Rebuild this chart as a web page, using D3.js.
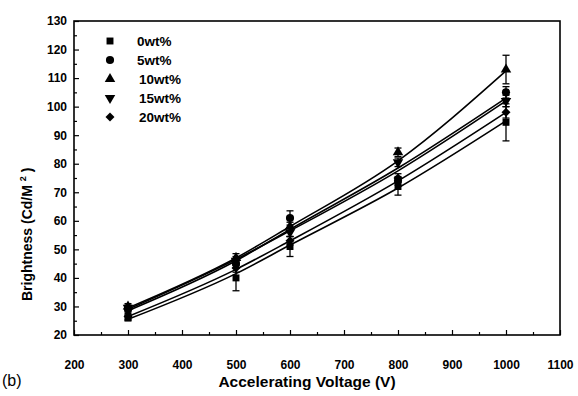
<!DOCTYPE html>
<html>
<head>
<meta charset="utf-8">
<script src="https://cdn.jsdelivr.net/npm/d3@7"></script>
<style>
  body { margin: 0; background: #fff; }
  svg { font-family: "Liberation Sans", Arial, sans-serif; }
</style>
</head>
<body>
<div id="chart"></div>
<script>
// Brightness vs accelerating voltage, five dopant contents
const voltages = [300, 500, 600, 800, 1000];
const seriesNames = ['0wt%', '5wt%', '10wt%', '15wt%', '20wt%'];
const seriesSymbols = ['square', 'circle', 'triangle', 'triangleDown', 'diamond'];

// measured points
const bright0 = [26, 40, 51, 72, 94.5];
const bright5 = [29, 45, 61, 74, 105];
const bright10 = [30, 47, 58, 84, 113];
const bright15 = [29.5, 46, 56, 80.5, 102];
const bright20 = [26.5, 43.5, 53, 75, 98];

// error bar half widths
const err0 = [1, 4.5, 3.5, 3, 6.5];
const err5 = [1, 1.5, 2.5, 1.5, 2];
const err10 = [1, 1.5, 1.5, 1.5, 5];
const err15 = [1, 1.5, 1.5, 1.5, 2];
const err20 = [1, 1.5, 1.5, 1.5, 2];

// fitted curves
const fit0 = [25.5, 41.5, 51.5, 71.5, 95];
const fit5 = [28.5, 46, 57, 78.5, 103];
const fit10 = [29.5, 47, 58, 81, 112.5];
const fit15 = [29, 46.5, 56.5, 77.5, 102];
const fit20 = [26.5, 43, 53, 74, 98];

const xTicks = [200, 300, 400, 500, 600, 700, 800, 900, 1000, 1100];
const yTicks = [20, 30, 40, 50, 60, 70, 80, 90, 100, 110, 120, 130];

const brightness = [bright0, bright5, bright10, bright15, bright20];
const errors = [err0, err5, err10, err15, err20];
const fits = [fit0, fit5, fit10, fit15, fit20];

const width = 578, height = 396;
const margin = { top: 21, right: 18, bottom: 61, left: 74 };

const svg = d3.select('#chart').append('svg')
    .attr('width', width)
    .attr('height', height);

const x = d3.scaleLinear().domain([200, 1100]).range([margin.left, width - margin.right]);
const y = d3.scaleLinear().domain([20, 130]).range([height - margin.bottom, margin.top]);

// frame
svg.append('rect')
    .attr('x', x(200)).attr('y', y(130))
    .attr('width', x(1100) - x(200)).attr('height', y(20) - y(130))
    .attr('fill', 'none').attr('stroke', '#000').attr('stroke-width', 1.6);

// x axis, ticks point inward
const xAxis = svg.append('g')
    .attr('transform', `translate(0,${y(20)})`)
    .call(d3.axisBottom(x).tickValues(xTicks).tickSize(-5).tickPadding(25).tickFormat(d3.format('d')));
xAxis.select('.domain').remove();
xAxis.selectAll('text').style('font-size', '12px').style('font-weight', 'bold').attr('fill', '#000');

const xMinor = svg.append('g')
    .attr('transform', `translate(0,${y(20)})`)
    .call(d3.axisBottom(x).tickValues(d3.range(250, 1100, 100)).tickSize(-3).tickFormat(''));
xMinor.select('.domain').remove();

// y axis
const yAxis = svg.append('g')
    .attr('transform', `translate(${x(200)},0)`)
    .call(d3.axisLeft(y).tickValues(yTicks).tickSize(-5).tickPadding(7));
yAxis.select('.domain').remove();
yAxis.selectAll('text').style('font-size', '12px').style('font-weight', 'bold').attr('fill', '#000');

const yMinor = svg.append('g')
    .attr('transform', `translate(${x(200)},0)`)
    .call(d3.axisLeft(y).tickValues(d3.range(25, 130, 10)).tickSize(-3).tickFormat(''));
yMinor.select('.domain').remove();

svg.selectAll('.tick line').attr('stroke', '#000').attr('stroke-width', 1.2);

// axis titles
svg.append('text')
    .attr('x', 307)
    .attr('y', 387)
    .attr('text-anchor', 'middle')
    .style('font-size', '15.5px')
    .style('font-weight', 'bold')
    .text('Accelerating Voltage (V)');

svg.append('text')
    .attr('x', 2)
    .attr('y', 386)
    .style('font-size', '16px')
    .text('(b)');

const yTitle = svg.append('text')
    .attr('transform', 'translate(32,301) rotate(-90)')
    .attr('text-anchor', 'start')
    .style('font-size', '14px')
    .style('font-weight', 'bold');
yTitle.append('tspan').text('Brightness (Cd/M ');
yTitle.append('tspan').attr('dy', -6).style('font-size', '9px').text('2');
yTitle.append('tspan').attr('dy', 6).text(' )');

// symbols
const symbolTypes = {
    square: d3.symbolSquare,
    circle: d3.symbolCircle,
    triangle: d3.symbolTriangle,
    triangleDown: d3.symbolTriangle,
    diamond: d3.symbolSquare
};
function symbolPath(name) {
    const size = name === 'circle' ? 52 : (name === 'diamond' ? 40 : 48);
    return d3.symbol().type(symbolTypes[name]).size(size)();
}
function symbolRotate(name) {
    if (name === 'triangleDown') return ' rotate(180)';
    if (name === 'diamond') return ' rotate(45)';
    return '';
}

const line = d3.line()
    .x((d, i) => x(voltages[i]))
    .y(d => y(d))
    .curve(d3.curveMonotoneX);

// fitted curves
fits.forEach(f => {
    svg.append('path')
        .attr('d', line(f))
        .attr('fill', 'none')
        .attr('stroke', '#000')
        .attr('stroke-width', 1.6);
});

// error bars and points
brightness.forEach((vals, s) => {
    const g = svg.append('g');
    vals.forEach((v, i) => {
        const cx = x(voltages[i]);
        const e = errors[s][i];
        g.append('line')
            .attr('x1', cx).attr('x2', cx)
            .attr('y1', y(v - e)).attr('y2', y(v + e))
            .attr('stroke', '#000').attr('stroke-width', 1.3);
        [v - e, v + e].forEach(c => {
            g.append('line')
                .attr('x1', cx - 3.5).attr('x2', cx + 3.5)
                .attr('y1', y(c)).attr('y2', y(c))
                .attr('stroke', '#000').attr('stroke-width', 1.3);
        });
        g.append('path')
            .attr('d', symbolPath(seriesSymbols[s]))
            .attr('transform', `translate(${cx},${y(v)})` + symbolRotate(seriesSymbols[s]))
            .attr('fill', '#000');
    });
});

// legend
const legend = svg.append('g').attr('transform', 'translate(110,41)');
seriesNames.forEach((name, i) => {
    const row = legend.append('g').attr('transform', `translate(0,${i * 19})`);
    row.append('path')
        .attr('d', symbolPath(seriesSymbols[i]))
        .attr('transform', 'translate(0,0)' + symbolRotate(seriesSymbols[i]))
        .attr('fill', '#000');
    row.append('text')
        .attr('x', name.length > 4 ? 29 : 27)
        .attr('y', 5)
        .style('font-size', '13.5px')
        .style('font-weight', 'bold')
        .text(name);
});
</script>
</body>
</html>
